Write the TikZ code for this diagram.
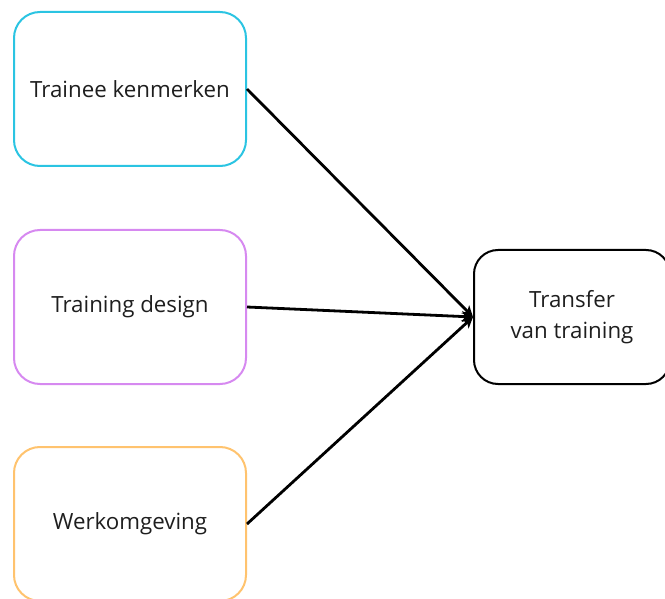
\documentclass[tikz,border=0pt]{standalone}
\usepackage{fontspec}
\setmainfont{Open Sans}
\usetikzlibrary{arrows.meta}
\definecolor{boxcyan}{HTML}{2BC4E2}
\definecolor{boxviolet}{HTML}{D689F0}
\definecolor{boxorange}{HTML}{FFC36E}
\definecolor{txt}{HTML}{1E1E1E}
\tikzset{
  factor/.style={draw, line width=2pt, rounded corners=26pt, minimum width=232pt,
    minimum height=154pt, inner sep=0pt, align=center, text=txt,
    font=\fontsize{22.3pt}{31.5pt}\selectfont},
  outcome/.style={factor, draw=black, minimum width=196pt, minimum height=134pt,
    rounded corners=24pt},
  link/.style={line width=2.8pt, -{Stealth[length=11pt,width=11pt,inset=3pt]}}
}
\begin{document}
\begin{tikzpicture}[x=1pt,y=-1pt]
  \useasboundingbox (0,0) rectangle (665,599);
  \node[factor, draw=boxcyan] (trainee) at (130,89) {Trainee kenmerken};
  \node[factor, draw=boxviolet] (design) at (130,307) {Training design};
  \node[factor, draw=boxorange] (werk) at (130,524) {Werkomgeving};
  \node[outcome] (transfer) at (572,317) {Transfer\\van training};
  \draw[link] (trainee.east) -- (transfer.west);
  \draw[link] (design.east) -- (transfer.west);
  \draw[link] (werk.east) -- (transfer.west);
\end{tikzpicture}
\end{document}
